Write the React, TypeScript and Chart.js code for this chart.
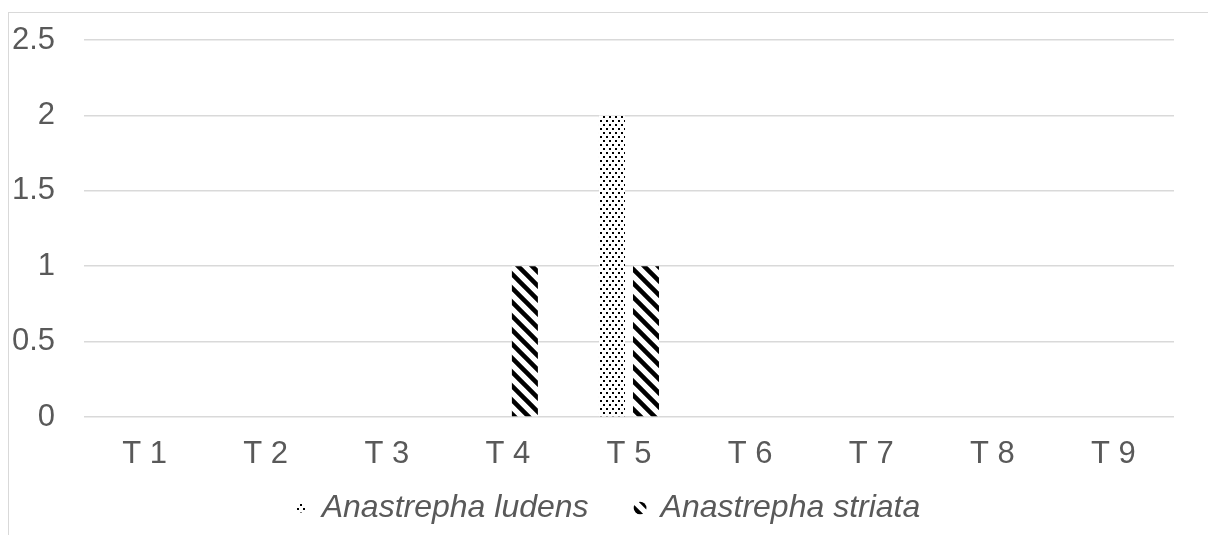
import React, { useEffect, useRef } from "react";
import { Chart, registerables } from "chart.js";

Chart.register(...registerables);

const categories = ["T 1", "T 2", "T 3", "T 4", "T 5", "T 6", "T 7", "T 8", "T 9"];
const ludensValues = [0, 0, 0, 0, 2, 0, 0, 0, 0];
const striataValues = [0, 0, 0, 1, 1, 0, 0, 0, 0];
const seriesNames = ["Anastrepha ludens", "Anastrepha striata"];
const yMin = 0;
const yMax = 2.5;
const yStep = 0.5;

const FONT = '"Liberation Sans", Arial, sans-serif';
const TEXT = "#595959";
const GRID = "#d9d9d9";

function makeDots(): CanvasPattern | string {
  const c = document.createElement("canvas");
  c.width = 6;
  c.height = 8;
  const g = c.getContext("2d");
  if (!g) return "#ccc";
  g.fillStyle = "#ffffff";
  g.fillRect(0, 0, 6, 8);
  g.fillStyle = "#000000";
  g.fillRect(0, 0, 2, 2);
  g.fillRect(3, 4, 2, 2);
  return g.createPattern(c, "repeat") || "#ccc";
}

function makeStripes(): CanvasPattern | string {
  const s = 14;
  const c = document.createElement("canvas");
  c.width = s;
  c.height = s;
  const g = c.getContext("2d");
  if (!g) return "#000";
  g.fillStyle = "#ffffff";
  g.fillRect(0, 0, s, s);
  g.strokeStyle = "#000000";
  g.lineWidth = 4.5;
  g.beginPath();
  for (const o of [-s, 0, s]) {
    g.moveTo(o - 2, -2);
    g.lineTo(o + s + 2, s + 2);
  }
  g.stroke();
  return g.createPattern(c, "repeat") || "#000";
}

const framePlugin = {
  id: "frame",
  beforeDraw(chart: any) {
    const ctx = chart.ctx;
    ctx.save();
    ctx.fillStyle = "#ffffff";
    ctx.fillRect(0, 0, chart.width, chart.height);
    ctx.fillStyle = GRID;
    ctx.fillRect(8, 12, 1, chart.height - 12);
    ctx.fillRect(8, 12, chart.width - 8, 1);
    ctx.restore();
  },
  afterLayout(chart: any) {
    if (chart.legend) {
      chart.legend.left = 17;
      chart.legend.right = 1200;
    }
    const x = chart.scales && chart.scales.x;
    if (x) {
      // allow the category labels to extend below the (thin) axis box
      x.bottom = x.top + 70;
    }
  },
};

export default function App() {
  const ref = useRef<HTMLCanvasElement | null>(null);

  useEffect(() => {
    if (!ref.current) return;
    const dots = makeDots();
    const stripes = makeStripes();
    const chart = new Chart(ref.current, {
      type: "bar",
      data: {
        labels: categories,
        datasets: [
          {
            label: seriesNames[0],
            data: ludensValues,
            backgroundColor: dots as any,
            borderWidth: 0,
          },
          {
            label: seriesNames[1],
            data: striataValues,
            backgroundColor: stripes as any,
            borderWidth: 0,
          },
        ],
      },
      options: {
        responsive: false,
        animation: false,
        devicePixelRatio: 1,
        layout: { padding: { top: 40, right: 34, bottom: 1, left: 0 } },
        datasets: {
          bar: { categoryPercentage: 0.5615, barPercentage: 0.765 },
        },
        scales: {
          x: {
            grid: { display: false, drawTicks: false },
            border: { display: false },
            ticks: {
              color: TEXT,
              font: { family: FONT, size: 31 },
              padding: 19,
              maxRotation: 0,
            },
            afterFit: (s: any) => {
              s.height = 28;
            },
          },
          y: {
            min: yMin,
            max: yMax,
            grid: { color: GRID, lineWidth: 1.5, drawTicks: false },
            border: { display: false },
            ticks: {
              stepSize: yStep,
              color: TEXT,
              font: { family: FONT, size: 31 },
              padding: 29,
              callback: (v: any) => String(Number(v)),
            },
            afterFit: (s: any) => {
              s.width = 84;
              s.paddingTop = 10;
              s.paddingBottom = 10;
            },
          },
        },
        plugins: {
          tooltip: { enabled: false },
          legend: {
            position: "bottom",
            labels: {
              color: TEXT,
              font: { family: FONT, size: 32, style: "italic" },
              usePointStyle: true,
              boxWidth: 9,
              boxHeight: 9,
              padding: 47,
              generateLabels: (ch: any) => {
                const items = (Chart as any).defaults.plugins.legend.labels.generateLabels(ch);
                items.forEach((it: any, i: number) => {
                  it.pointStyle = i === 0 ? "rect" : "circle";
                  it.lineWidth = 0;
                  it.fontColor = TEXT;
                });
                return items;
              },
            },
          },
        },
      },
      plugins: [framePlugin],
    });
    return () => chart.destroy();
  }, []);

  return (
    <div style={{ position: "fixed", left: 0, top: 0, width: 1208, height: 535 }}>
      <canvas ref={ref} width={1208} height={535} style={{ display: "block" }} />
    </div>
  );
}
